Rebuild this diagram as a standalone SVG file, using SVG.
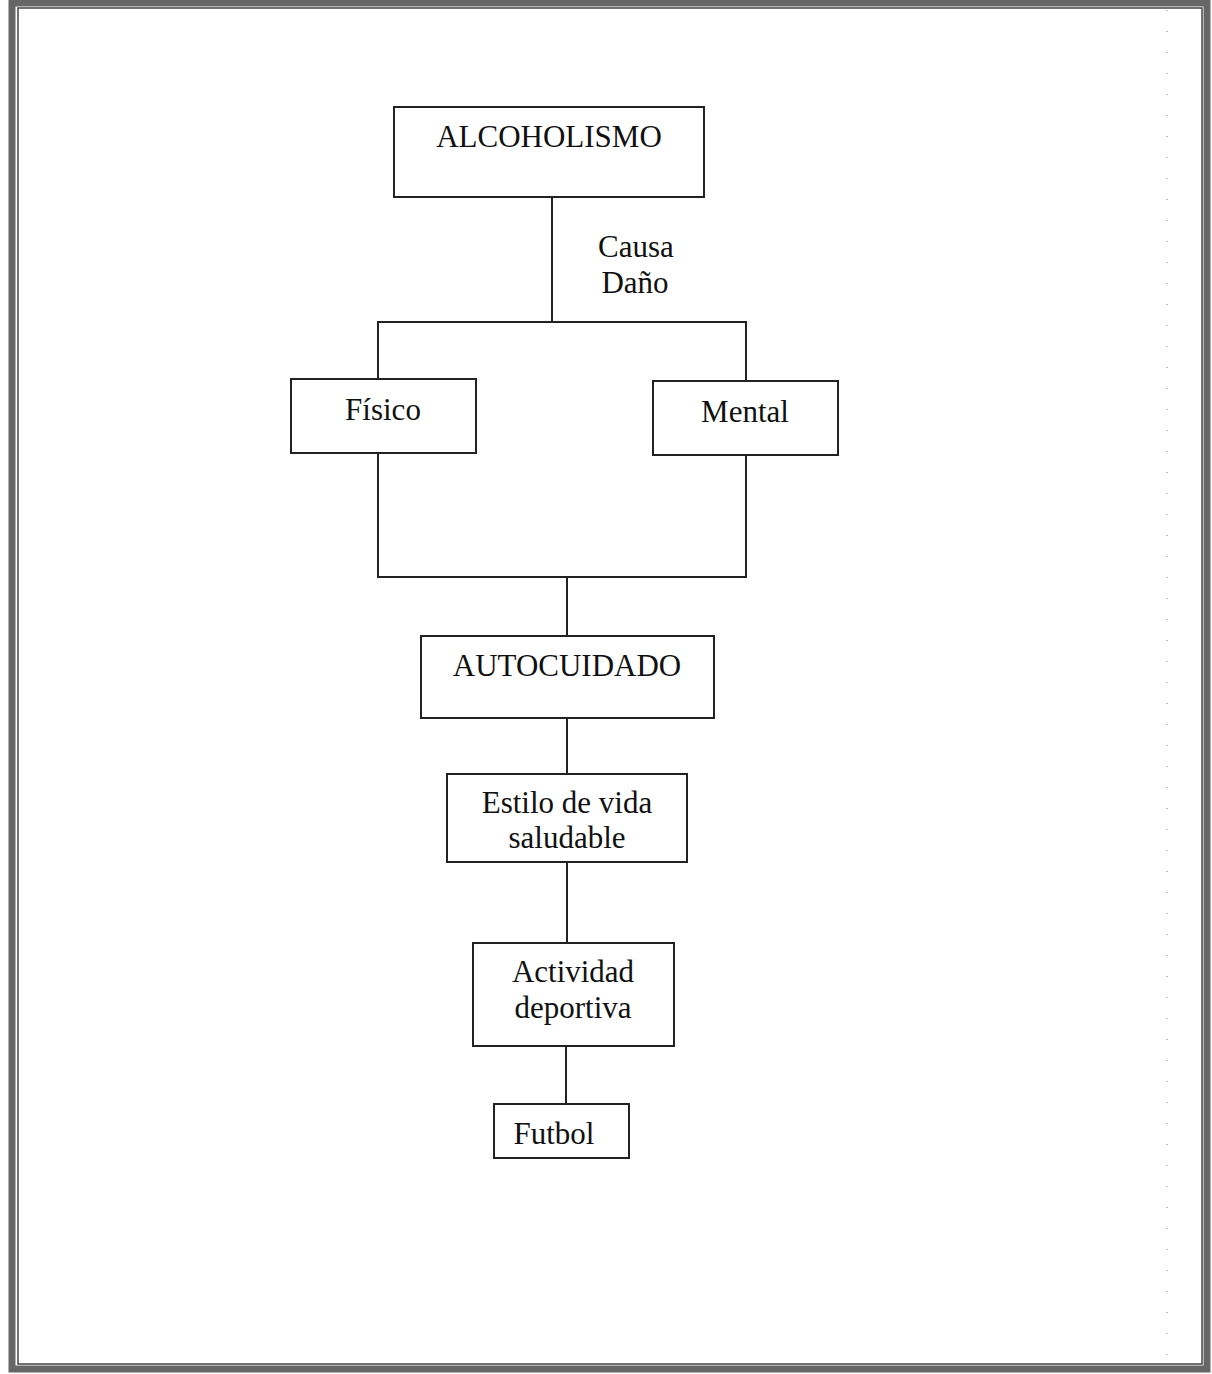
<svg xmlns="http://www.w3.org/2000/svg" width="1212" height="1374" viewBox="0 0 1212 1374">
<style>
.box{fill:#fff;stroke:#222;stroke-width:2}
.ln{stroke:#222;stroke-width:2;fill:none}
text{font-family:"Liberation Serif","Times New Roman",serif;font-size:31px;fill:#111;text-anchor:middle}
</style>
<rect x="0" y="0" width="1212" height="1374" fill="#fff"/>
<g id="frame">
<rect x="12" y="3" width="1195" height="1366" fill="none" stroke="#666" stroke-width="7"/>
<rect x="18" y="8" width="1184" height="1356" fill="none" stroke="#444" stroke-width="1.5"/>
<line x1="1167" y1="10" x2="1167" y2="1362" stroke="#777" stroke-width="1" stroke-dasharray="1 20"/>
</g>
<g id="connectors">
<line class="ln" x1="552" y1="197" x2="552" y2="322"/>
<polyline class="ln" points="378,379 378,322 746,322 746,381"/>
<polyline class="ln" points="378,453 378,577 746,577 746,455"/>
<line class="ln" x1="567" y1="577" x2="567" y2="636"/>
<line class="ln" x1="567" y1="718" x2="567" y2="774"/>
<line class="ln" x1="567" y1="862" x2="567" y2="943"/>
<line class="ln" x1="566" y1="1046" x2="566" y2="1104"/>
<text x="636" y="257">Causa</text>
<text x="635" y="293">Daño</text>
</g>
<g id="alcoholismo"><rect class="box" x="394" y="107" width="310" height="90"/><text x="549" y="147">ALCOHOLISMO</text></g>
<g id="fisico"><rect class="box" x="291" y="379" width="185" height="74"/><text x="383" y="420">Físico</text></g>
<g id="mental"><rect class="box" x="653" y="381" width="185" height="74"/><text x="745" y="422">Mental</text></g>
<g id="autocuidado"><rect class="box" x="421" y="636" width="293" height="82"/><text x="567" y="676">AUTOCUIDADO</text></g>
<g id="estilo"><rect class="box" x="447" y="774" width="240" height="88"/><text x="567" y="813">Estilo de vida</text><text x="567" y="848">saludable</text></g>
<g id="actividad"><rect class="box" x="473" y="943" width="201" height="103"/><text x="573" y="982">Actividad</text><text x="573" y="1018">deportiva</text></g>
<g id="futbol"><rect class="box" x="494" y="1104" width="135" height="54"/><text x="554" y="1144">Futbol</text></g>
</svg>
